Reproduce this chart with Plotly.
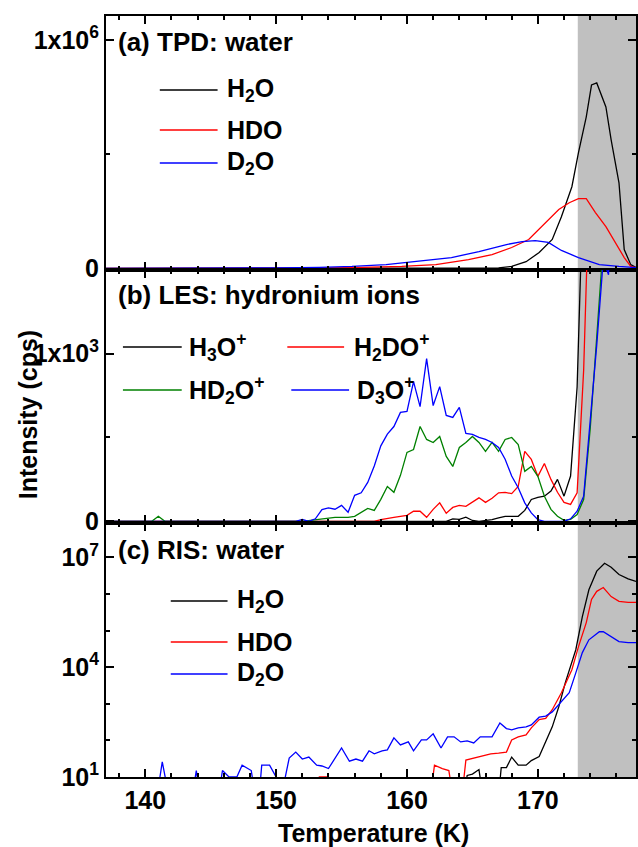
import plotly.graph_objects as go
from plotly.subplots import make_subplots

# ---------------- (a) TPD: water ----------------
tpd_h2o_T = [137.0, 160.0, 165.0, 167.0, 168.0, 169.1, 170.1, 171.1, 171.8, 172.6, 173.1, 173.7, 174.1, 174.5, 175.2, 175.6, 176.2, 176.6, 177.1, 177.5]
tpd_h2o_v = [0, 0, 1000, 3000, 9000, 30000, 70000, 127000, 227000, 358000, 506000, 664000, 803000, 812000, 707000, 563000, 375000, 83000, 17000, 4000]

tpd_hdo_T = [137.0, 150.0, 153.3, 155.8, 159.6, 162.2, 164.7, 166.5, 168.0, 169.3, 170.6, 171.6, 172.4, 173.1, 173.7, 174.4, 175.2, 175.9, 176.6, 177.1, 177.5]
tpd_hdo_v = [0, 0, 2000, 4000, 9000, 17000, 39000, 61000, 92000, 127000, 200000, 258000, 288000, 306000, 306000, 245000, 183000, 114000, 48000, 9000, 4000]

tpd_d2o_T = [137.0, 145.0, 150.0, 153.3, 155.8, 158.4, 160.9, 163.4, 165.5, 167.6, 168.8, 169.8, 170.8, 171.8, 173.1, 174.7, 176.2, 177.5]
tpd_d2o_v = [0, 0, 3000, 5000, 9000, 17000, 31000, 48000, 74000, 105000, 118000, 122000, 114000, 79000, 48000, 17000, 9000, 4000]

# ---------------- (b) LES: hydronium ions ----------------
les_h3o_T = [137.0, 152.0, 163.0, 163.5, 164.0, 164.5, 165.0, 165.5, 166.0, 166.5, 167.0, 167.5, 168.0, 168.5, 169.0, 169.5, 170.0, 170.5, 171.0, 171.5, 172.0, 172.5, 173.0, 173.5, 174.0, 175.0, 178.0]
les_h3o_v = [0, 0, 0, 15, 12, 25, 5, 0, 5, 10, 20, 30, 30, 30, 65, 130, 143, 150, 180, 250, 150, 270, 800, 2500, 4000, 6000, 5000]

les_h2do_T = [137.0, 157.0, 157.5, 158.0, 158.5, 159.0, 159.5, 160.0, 160.5, 161.0, 161.5, 162.0, 162.5, 163.0, 163.5, 164.0, 164.5, 165.0, 165.5, 166.0, 166.5, 167.0, 167.5, 168.0, 168.5, 169.0, 169.5, 170.0, 170.5, 171.0, 171.5, 172.0, 172.5, 173.0, 173.5, 174.0, 175.0, 178.0]
les_h2do_v = [0, 0, 0, 10, 15, 24, 30, 36, 60, 60, 24, 71, 110, 48, 83, 95, 89, 113, 140, 113, 137, 170, 173, 165, 208, 417, 369, 268, 345, 250, 173, 113, 101, 170, 900, 2200, 4000, 5000]

les_hd2o_T = [137.0, 140.5, 141.0, 141.5, 152.0, 153.0, 153.5, 154.0, 154.5, 155.0, 155.5, 156.0, 156.5, 157.0, 157.5, 158.0, 158.5, 159.0, 159.5, 160.0, 160.5, 161.0, 161.5, 162.0, 162.5, 163.0, 163.5, 164.0, 164.5, 165.0, 165.5, 166.0, 166.5, 167.0, 167.5, 168.0, 168.5, 169.0, 169.5, 170.0, 170.5, 171.0, 171.5, 172.0, 172.5, 173.0, 173.5, 174.0, 174.5, 175.0, 178.0]
les_hd2o_v = [0, 0, 30, 0, 0, 10, 12, 20, 24, 24, 24, 30, 54, 77, 65, 131, 208, 173, 274, 411, 428, 565, 488, 470, 506, 387, 327, 440, 470, 506, 470, 417, 470, 417, 488, 500, 458, 298, 327, 268, 149, 71, 30, 6, 12, 40, 130, 550, 1100, 1700, 5000]

les_d3o_T = [137.0, 151.5, 152.0, 152.5, 153.0, 153.5, 154.0, 154.5, 155.0, 155.5, 156.0, 156.5, 157.0, 157.5, 158.0, 158.5, 159.0, 159.5, 160.0, 160.5, 161.0, 161.5, 162.0, 162.5, 163.0, 163.5, 164.0, 164.5, 165.0, 165.5, 166.0, 166.5, 167.0, 167.5, 168.0, 168.5, 169.0, 169.5, 170.0, 170.5, 171.0, 171.5, 172.0, 172.5, 173.0, 173.5, 174.0, 174.5, 175.0, 175.4, 175.8, 178.0]
les_d3o_v = [0, 0, 12, 0, 15, 70, 80, 72, 95, 54, 155, 170, 232, 330, 450, 520, 565, 649, 655, 833, 684, 970, 690, 803, 631, 619, 679, 524, 518, 500, 488, 470, 440, 370, 270, 200, 110, 50, 10, 0, 0, 0, 0, 15, 60, 150, 600, 1050, 1560, 1470, 2500, 5000]

# ---------------- (c) RIS: water ----------------
ris_h2o_T = [164.3, 164.6, 165.0, 165.5, 165.8, 167.0, 167.2, 167.6, 168.0, 168.5, 169.1, 169.5, 170.1, 170.6, 171.1, 171.6, 172.1, 172.9, 173.4, 173.9, 174.5, 175.1, 175.6, 176.2, 176.9, 177.5]
ris_h2o_v = [3, 11, 12, 16, 3, 3, 18, 18, 35, 21, 21, 28, 36, 91, 234, 830, 3800, 30000, 240000, 1300000, 4200000, 6900000, 5400000, 3400000, 2600000, 2200000]

ris_hdo_T = [152.9, 153.3, 154.0, 154.3, 161.8, 162.1, 162.7, 163.2, 163.5, 164.2, 164.5, 165.1, 165.7, 166.4, 167.0, 167.6, 168.0, 168.5, 169.1, 169.5, 170.1, 170.6, 171.1, 171.8, 172.6, 173.1, 173.7, 174.1, 174.5, 175.0, 175.6, 176.2, 176.9, 177.5]
ris_hdo_v = [3, 10, 10, 3, 3, 21, 17, 15, 3, 3, 29, 33, 37, 43, 45, 48, 103, 125, 141, 220, 370, 400, 690, 2000, 8500, 36000, 165000, 710000, 1180000, 1500000, 850000, 630000, 590000, 590000]

ris_d2o_T = [140.9, 141.3, 141.8, 143.6, 143.9, 144.2, 145.6, 145.9, 146.4, 147.0, 147.4, 148.1, 148.4, 148.7, 148.9, 149.5, 150.0, 150.4, 151.0, 151.5, 152.0, 152.5, 153.1, 153.5, 154.0, 155.0, 155.6, 156.1, 156.6, 157.1, 157.5, 158.1, 158.5, 159.0, 159.5, 160.1, 160.5, 161.1, 161.5, 162.0, 162.6, 163.1, 163.6, 164.1, 164.6, 165.1, 165.6, 166.1, 166.5, 167.1, 167.6, 168.0, 168.5, 169.1, 169.5, 170.1, 170.6, 171.1, 171.6, 172.4, 172.9, 173.4, 173.9, 174.7, 175.0, 175.6, 176.2, 176.9, 177.5]
ris_d2o_v = [3, 26, 3, 3, 15, 3, 3, 15, 10, 10, 21, 15, 3, 3, 21, 21, 10, 3, 33, 48, 31, 35, 21, 20, 17, 62, 27, 31, 27, 52, 43, 52, 55, 117, 75, 91, 52, 103, 103, 151, 62, 125, 125, 91, 97, 85, 125, 125, 125, 300, 210, 195, 220, 234, 264, 430, 460, 600, 940, 2000, 7000, 25000, 56000, 93000, 93000, 69000, 50000, 47000, 47000]

# ---------------- styling ----------------
BLACK, RED, GREEN, BLUE = "#000000", "#ff0000", "#008000", "#0000ff"
FONT = "Liberation Sans"
LW = 1.3

fig = make_subplots(rows=3, cols=1, shared_xaxes=True, vertical_spacing=0)

def add(T, v, color, row):
    fig.add_trace(go.Scatter(x=T, y=v, mode="lines", line=dict(color=color, width=LW),
                             showlegend=False, hoverinfo="skip"), row=row, col=1)

add(tpd_h2o_T, tpd_h2o_v, BLACK, 1)
add(tpd_hdo_T, tpd_hdo_v, RED, 1)
add(tpd_d2o_T, tpd_d2o_v, BLUE, 1)

add(les_h3o_T, les_h3o_v, BLACK, 2)
add(les_h2do_T, les_h2do_v, RED, 2)
add(les_hd2o_T, les_hd2o_v, GREEN, 2)
add(les_d3o_T, les_d3o_v, BLUE, 2)

add(ris_h2o_T, ris_h2o_v, BLACK, 3)
add(ris_hdo_T, ris_hdo_v, RED, 3)
add(ris_d2o_T, ris_d2o_v, BLUE, 3)

tickfont = dict(family=FONT, size=25, color="black", weight="bold")
axis_common = dict(showline=True, linecolor="black", linewidth=2, mirror="allticks",
                   ticks="inside", tickcolor="black", tickwidth=2, ticklen=8,
                   showgrid=False, zeroline=False, tickfont=tickfont)

for r in (1, 2, 3):
    fig.update_xaxes(range=[137, 177.5], dtick=10, tick0=140,
                     minor=dict(dtick=2, tick0=140, ticks="inside", ticklen=4, tickwidth=1.5, tickcolor="black"),
                     showticklabels=(r == 3), row=r, col=1, **axis_common)

fig.update_yaxes(range=[-5000, 1.105e6], tickmode="array", tickvals=[0, 1e6],
                 ticktext=["0", "1x10<sup>6</sup>"],
                 minor=dict(tickvals=[5e5], ticks="inside", ticklen=4, tickwidth=1.5, tickcolor="black"),
                 row=1, col=1, **axis_common)
fig.update_yaxes(range=[-12, 1500], tickmode="array", tickvals=[0, 1000],
                 ticktext=["0", "1x10<sup>3</sup>"],
                 minor=dict(tickvals=[500], ticks="inside", ticklen=4, tickwidth=1.5, tickcolor="black"),
                 row=2, col=1, **axis_common)
fig.update_yaxes(type="log", range=[1, 7.93], tickmode="array", tickvals=[10, 1e4, 1e7],
                 ticktext=["10<sup>1</sup>", "10<sup>4</sup>", "10<sup>7</sup>"],
                 minor=dict(tickvals=[100, 1000, 1e5, 1e6], ticks="inside", ticklen=4, tickwidth=1.5, tickcolor="black"),
                 row=3, col=1, **axis_common)

# grey shaded region (T > 173 K)
fig.add_shape(type="rect", xref="x", yref="paper", x0=173.05, x1=178.5, y0=0, y1=1,
              fillcolor="#c0c0c0", line=dict(width=0), layer="below")

W, H = 638, 847
L, R, T_, B = 106, 0, 16, 70
PW, PH = W - L - R, H - T_ - B

def px(x):
    return (x - L) / PW

def py(y):
    return (H - B - y) / PH

lab_font = dict(family=FONT, size=25, color="black", weight="bold")
title_font = dict(family=FONT, size=26, color="black", weight="bold")
ann = []
# panel titles
for txt, y in [("(a) TPD: water", 42), ("(b) LES: hydronium ions", 295), ("(c) RIS: water", 550)]:
    ann.append(dict(text=txt, x=px(116), y=py(y), xref="paper", yref="paper",
                    xanchor="left", yanchor="middle", showarrow=False, font=title_font))

# legend entries: (label, color, x_line0, x_line1, y, x_text)
legend_items = [
    ("H<sub>2</sub>O", BLACK, 160, 218, 90, 225),
    ("HDO", RED, 160, 218, 130, 225),
    ("D<sub>2</sub>O", BLUE, 160, 218, 163, 225),
    ("H<sub>3</sub>O<sup>+</sup>", BLACK, 123, 182, 347, 187),
    ("H<sub>2</sub>DO<sup>+</sup>", RED, 288, 345, 347, 353),
    ("HD<sub>2</sub>O<sup>+</sup>", GREEN, 123, 182, 390, 187),
    ("D<sub>3</sub>O<sup>+</sup>", BLUE, 292, 350, 390, 356),
    ("H<sub>2</sub>O", BLACK, 171, 228, 601, 235),
    ("HDO", RED, 171, 228, 642, 235),
    ("D<sub>2</sub>O", BLUE, 171, 228, 674, 235),
]
for label, color, x0, x1, y, xt in legend_items:
    fig.add_shape(type="line", xref="paper", yref="paper", x0=px(x0), x1=px(x1), y0=py(y), y1=py(y),
                  line=dict(color=color, width=1.6))
    ann.append(dict(text=label, x=px(xt), y=py(y), xref="paper", yref="paper",
                    xanchor="left", yanchor="middle", showarrow=False, font=lab_font))

ann.append(dict(text="Intensity (cps)", x=px(28), y=py(415), xref="paper", yref="paper",
                textangle=-90, xanchor="center", yanchor="middle", showarrow=False, font=lab_font))
ann.append(dict(text="Temperature (K)", x=px(375), y=py(833), xref="paper", yref="paper",
                xanchor="center", yanchor="middle", showarrow=False, font=lab_font))

fig.update_layout(width=W, height=H, margin=dict(l=L, r=R, t=T_, b=B),
                  paper_bgcolor="white", plot_bgcolor="white", annotations=ann,
                  font=dict(family=FONT, color="black"))

fig.write_html("out.html", config={"displayModeBar": False},
               post_script="document.body.style.margin='0';document.body.style.padding='0';"
                           "document.body.style.overflow='hidden';"
                           "document.documentElement.style.overflow='hidden';")
